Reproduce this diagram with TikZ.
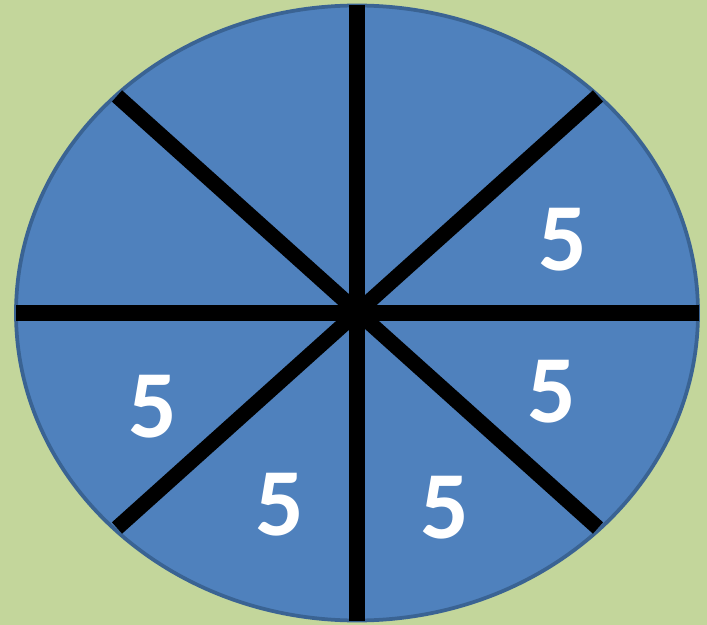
\documentclass[tikz,border=0pt]{standalone}
\usepackage{fontspec}
\setmainfont{Carlito}
\definecolor{bgGreen}{HTML}{C3D69B}
\definecolor{wheelBlue}{HTML}{4F81BD}
\definecolor{rimBlue}{HTML}{3A6393}
\begin{document}
\begin{tikzpicture}[x=0.03cm,y=-0.03cm,
    spoke/.style={line width=13pt, black},
    num/.style={text=white, font=\fontsize{82}{82}\selectfont\bfseries, inner sep=0pt}]
            \fill[bgGreen] (0,0) rectangle (707,625);
            \useasboundingbox (0,0) rectangle (707,625);
            \coordinate (O) at (357,313);
            \coordinate (T) at (357,5);
            \coordinate (Bt) at (357,621);
            \coordinate (L) at (16,313);
            \coordinate (R) at (699,313);
            \coordinate (TL) at (117,96);
            \coordinate (BR) at (598,528);
            \coordinate (TR) at (598,96);
            \coordinate (BL) at (117,528);
            
            % het wiel
            \filldraw[fill=wheelBlue, draw=rimBlue, line width=3.2pt] (O) ellipse (341 and 307.5);
            
            % spaken
            \draw[spoke] (T) -- (Bt);
            \draw[spoke] (L) -- (R);
            \draw[spoke] (TL) -- (BR);
            \draw[spoke] (TR) -- (BL);
            
            % getallen
            \node[num] (n1) at (563,240) {5};
            \node[num] (n2) at (552,392) {5};
            \node[num] (n3) at (445,508) {5};
            \node[num] (n4) at (280,505) {5};
            \node[num] (n5) at (153,407) {5};
        \end{tikzpicture}
\end{document}
